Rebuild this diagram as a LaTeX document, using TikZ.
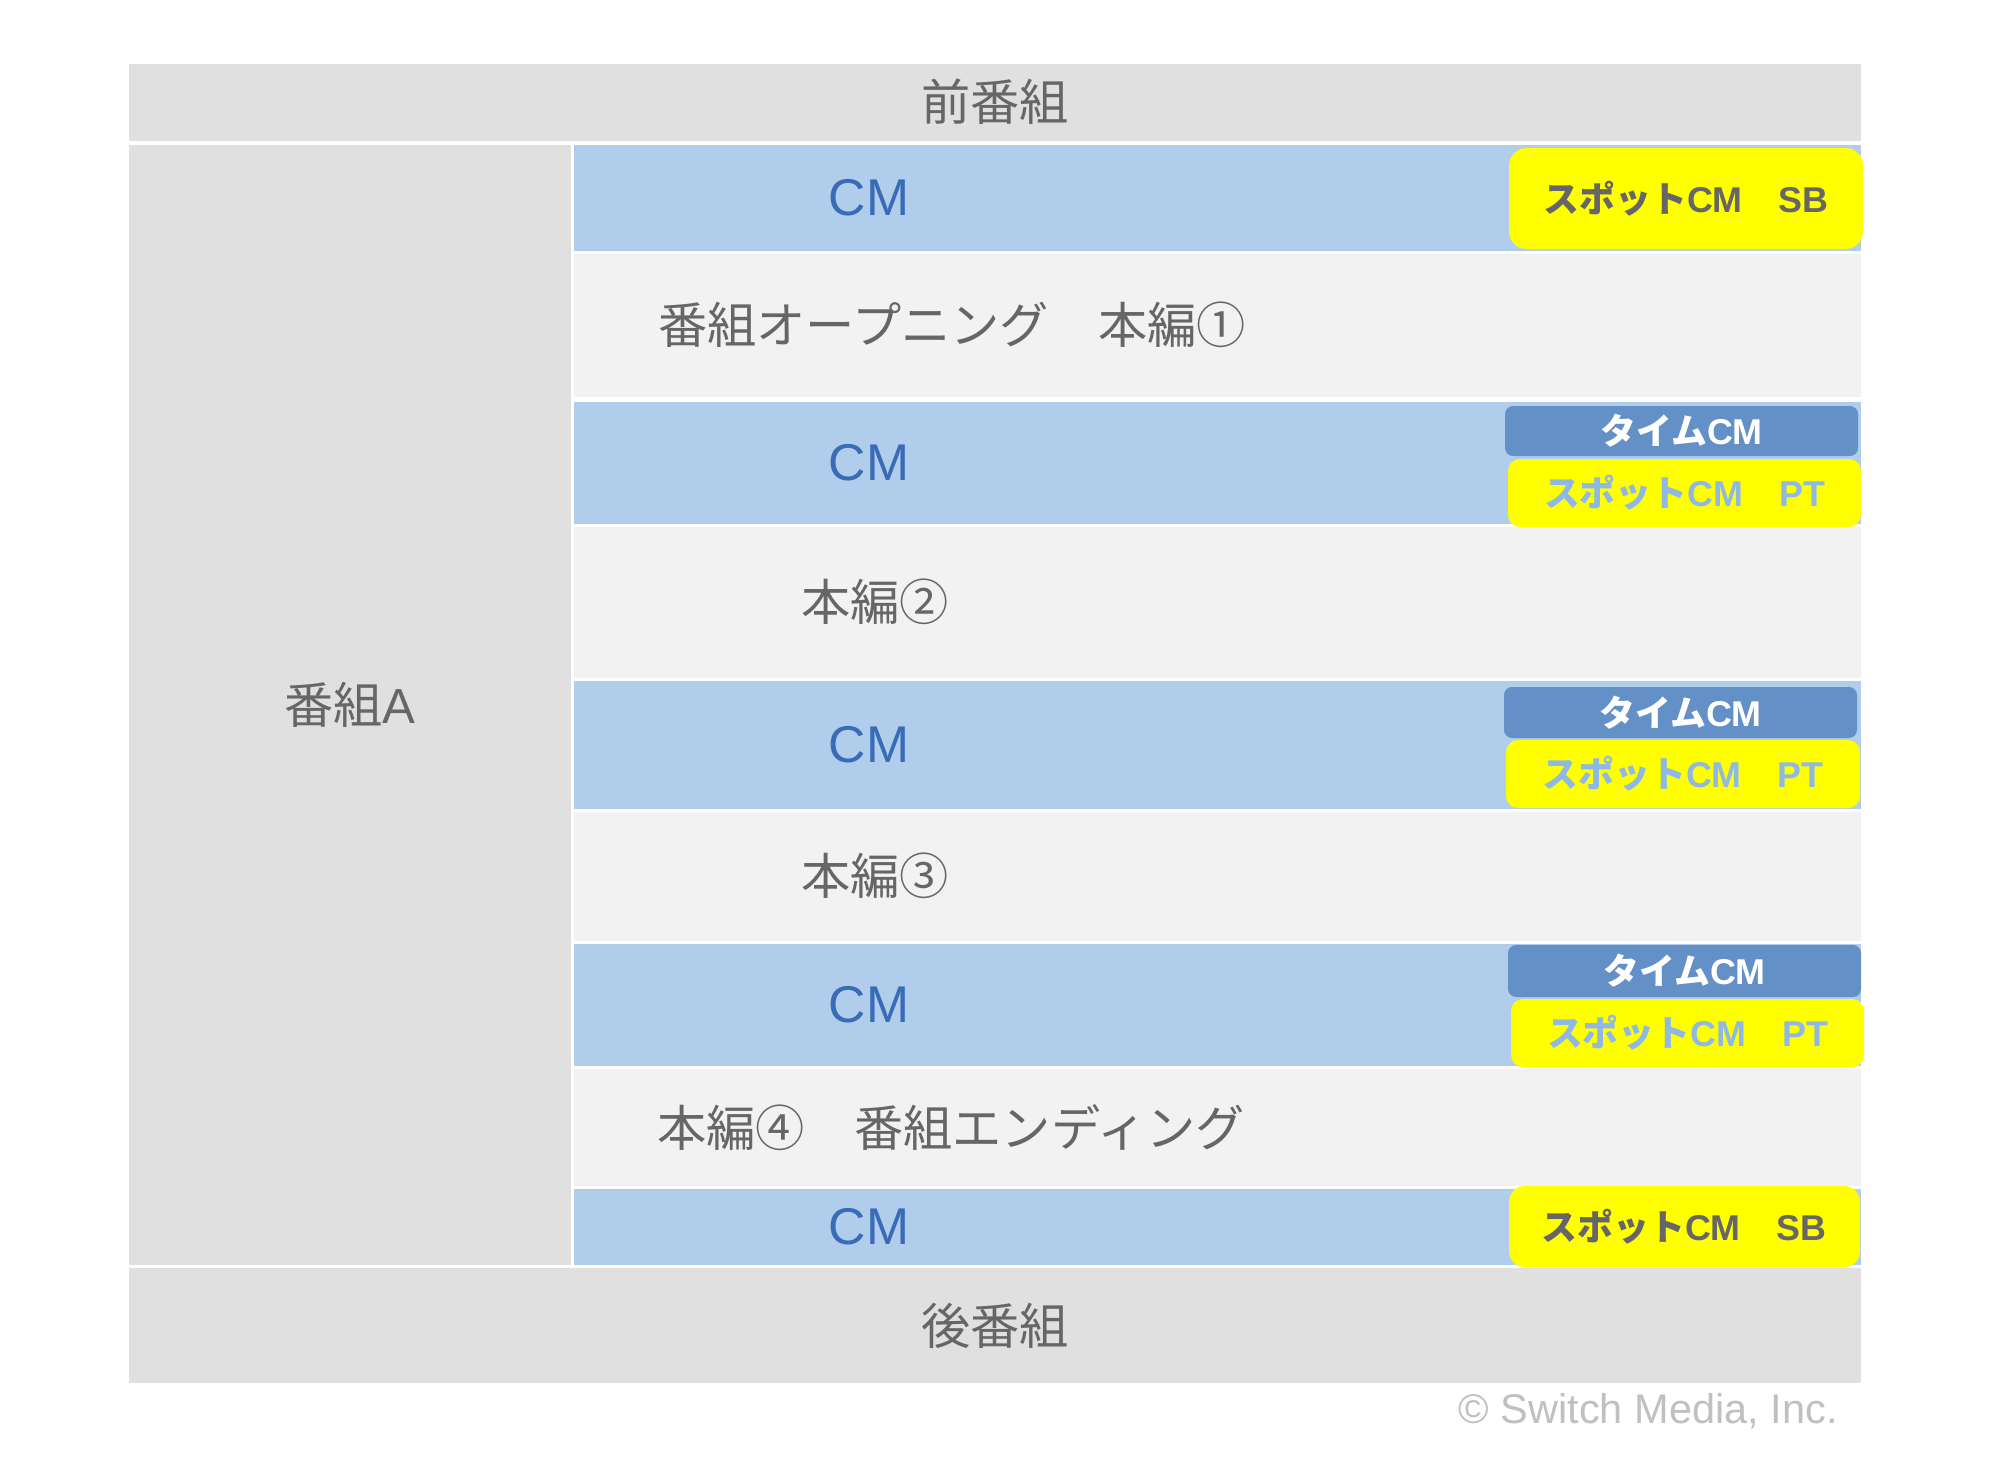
\documentclass[tikz,border=0pt]{standalone}
\usepackage{fontspec}
\setmainfont{Liberation Sans}
\newfontfamily\jp{Noto Sans CJK JP}
\definecolor{bandgray}{HTML}{E0E0E0}
\definecolor{rowlight}{HTML}{F2F2F2}
\definecolor{cmblue}{HTML}{B0CDEB}
\definecolor{cmtext}{HTML}{3A6BB7}
\definecolor{timeblue}{HTML}{6490C8}
\definecolor{spotyellow}{HTML}{FFFF00}
\definecolor{ptblue}{HTML}{8EB8E6}
\definecolor{txtgray}{HTML}{666666}
\definecolor{copygray}{HTML}{C0C0C0}
\begin{document}
\begin{tikzpicture}[x=0.01cm,y=-0.01cm,
  lbl/.style={text=txtgray,font=\fontsize{14}{17}\selectfont\jp},
  cmlbl/.style={text=cmtext,font=\fontsize{14.7}{17}\selectfont},
  tag/.style={font=\fontsize{10.2}{12}\selectfont\bfseries,text=#1},
  spotbox/.style={fill=spotyellow,rounded corners=#1}]
\fill[white] (0,0) rectangle (2000,1460);
\useasboundingbox (0,0) rectangle (2000,1460);
% outer bands
\fill[bandgray] (129,64) rectangle (1861,141);
\fill[bandgray] (129,145) rectangle (571,1265);
\fill[bandgray] (129,1268) rectangle (1861,1383);
\node[lbl] (pre) at (995,102) {前番組};
\node[lbl] (progA) at (350,705) {番組{\normalfont A}};
\node[lbl] (post) at (995,1326) {後番組};
% main rows
\foreach \t/\b [count=\i] in {254/397,527/678,812/941,1069/1186}
  \fill[rowlight] (574,\t) rectangle (1861,\b);
\node[lbl] (op) at (952,325) {番組オープニング　本編①};
\node[lbl] (h2) at (875,602) {本編②};
\node[lbl] (h3) at (875,876) {本編③};
\node[lbl] (ed) at (951,1128) {本編④　番組エンディング};
% CM rows
\foreach \t/\b [count=\i] in {145/251,402/524,681/809,944/1066,1189/1265}{
  \fill[cmblue] (574,\t) rectangle (1861,\b);
  \node[cmlbl] (cm\i) at (869,{(\t+\b)/2}) {CM};
}
% SB boxes
\fill[spotbox=5pt] (1509,148) rectangle (1863,249);
\node[tag=txtgray] (sbA) at (1686,198.5) {{\jp スポット}CM{\jp 　}SB};
\fill[spotbox=4.5pt] (1509,1186) rectangle (1860,1267);
\node[tag=txtgray] (sbB) at (1684,1226.5) {{\jp スポット}CM{\jp 　}SB};
% time CM / PT boxes
\foreach \xa/\xb/\ta/\tb/\pa/\pb/\pc/\n in {1505/1858/406/456/1508/1861/459/2,1504/1857/687/738/1506/1860/740/3,1508/1861/945/997/1511/1864/999/4}{
  \fill[timeblue,rounded corners=2.3pt] (\xa,\ta) rectangle (\xb,\tb);
  \node[tag=white] (time\n) at ({(\xa+\xb)/2},{(\ta+\tb)/2}) {{\jp タイム}CM};
  \fill[spotbox=3.4pt] (\pa,\pc) rectangle (\pb,\pc+68);
  \node[tag=ptblue] (pt\n) at ({(\pa+\pb)/2},{\pc+34}) {{\jp スポット}CM{\jp 　}PT};
}
\node[anchor=east,text=copygray,font=\fontsize{11.8}{14}\selectfont] (copy) at (1850,1411) {© Switch Media, Inc.};
\end{tikzpicture}
\end{document}
